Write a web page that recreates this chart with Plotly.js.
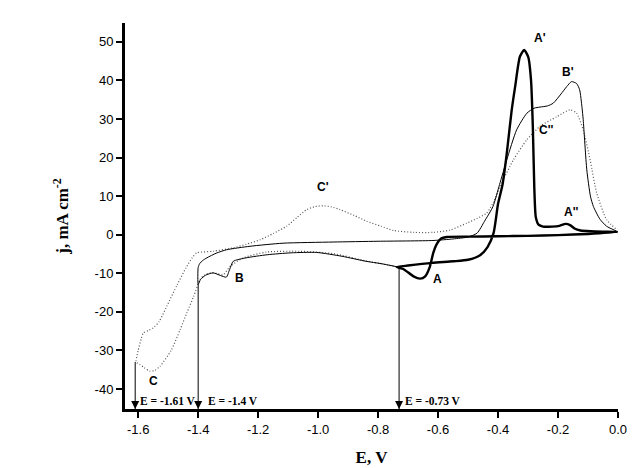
<!DOCTYPE html>
<html><head><meta charset="utf-8">
<script src="https://cdn.plot.ly/plotly-3.0.1.min.js"></script>
<style>html,body{margin:0;padding:0;background:#fff}#chart{width:632px;height:468px}</style>
</head><body><div id="chart"></div>
<script>
// Curve A (thick): scan reversed at -0.73 V
const thickE = [-0.738,-0.70,-0.62,-0.55,-0.50,-0.46,-0.435,-0.415,-0.40,-0.385,-0.371,-0.355,-0.343,-0.327,-0.313,-0.299,-0.29,-0.284,-0.279,-0.274,-0.265,-0.25,-0.22,-0.195,-0.175,-0.16,-0.145,-0.125,-0.09,-0.05,0.0,
  -0.1,-0.2,-0.3,-0.4,-0.5,-0.571,-0.59,-0.605,-0.616,-0.627,-0.643,-0.66,-0.682,-0.716,-0.738];
const thickJ = [-8.4,-8.0,-7.3,-6.9,-6.5,-5.3,-3.2,0.4,8.0,13.0,21.0,32.0,38.4,46.2,47.9,46.0,40.0,28.0,12.0,4.5,2.6,2.1,2.1,2.3,2.8,2.5,1.6,1.1,0.9,0.8,0.7,
  0.2,-0.1,-0.3,-0.4,-0.5,-0.6,-1.0,-2.5,-4.7,-8.2,-10.8,-11.4,-10.8,-8.9,-8.4];
// Curve B (thin): scan reversed at -1.4 V
const thinE = [-0.738,-0.79,-0.84,-0.92,-1.005,-1.09,-1.17,-1.24,-1.283,-1.295,-1.306,-1.325,-1.35,-1.375,-1.392,-1.40,
  -1.40,-1.395,-1.385,-1.371,-1.34,-1.305,-1.227,-1.117,-0.95,-0.80,-0.617,-0.55,-0.50,-0.47,-0.445,-0.417,-0.395,-0.371,-0.338,-0.304,-0.28,-0.26,-0.235,-0.216,-0.19,-0.171,-0.155,-0.138,-0.128,-0.12,-0.116,-0.104,-0.092,-0.082,-0.06,-0.038,-0.004];
const thinJ = [-8.3,-7.5,-6.9,-5.6,-4.6,-4.7,-5.2,-6.0,-6.9,-9.0,-11.0,-10.6,-9.9,-10.5,-11.6,-12.9,
  -8.5,-7.5,-6.7,-6.0,-4.8,-3.9,-3.0,-2.2,-1.9,-1.7,-1.5,-1.1,-0.6,0.4,3.5,7.3,13.0,19.4,27.2,31.5,32.8,33.1,33.4,34.1,36.5,38.4,39.7,39.2,37.6,33.0,29.8,16.8,10.0,7.3,4.0,2.2,0.9];
// Curve C (dotted): scan reversed at -1.61 V
const dotE = [-0.738,-0.84,-0.95,-1.06,-1.172,-1.249,-1.293,-1.317,-1.34,-1.36,-1.38,-1.393,-1.415,-1.438,-1.46,-1.49,-1.527,-1.545,-1.561,-1.58,-1.595,-1.605,
  -1.607,-1.60,-1.59,-1.583,-1.565,-1.55,-1.53,-1.505,-1.47,-1.44,-1.42,-1.405,-1.35,-1.283,-1.24,-1.193,-1.15,-1.105,-1.07,-1.038,-1.01,-0.983,-0.955,-0.927,-0.88,-0.838,-0.79,-0.749,-0.68,-0.617,-0.56,-0.504,-0.47,-0.438,-0.415,-0.393,-0.349,-0.304,-0.26,-0.204,-0.16,-0.138,-0.116,-0.093,-0.071,-0.038,-0.004];
const dotJ = [-8.3,-6.8,-4.9,-4.3,-4.5,-6.0,-8.2,-10.4,-10.0,-9.9,-10.5,-11.5,-16.0,-20.3,-24.6,-30.0,-34.1,-35.2,-35.4,-34.5,-33.6,-33.2,
  -32.8,-30.0,-27.0,-25.5,-24.8,-24.2,-22.5,-18.6,-13.0,-8.5,-6.0,-4.7,-4.3,-3.4,-2.5,-1.3,0.3,2.2,4.5,6.5,7.3,7.5,7.2,6.5,5.0,3.5,2.2,1.1,0.6,0.6,1.2,3.0,4.2,5.6,8.5,12.5,19.4,24.6,28.1,30.6,32.4,31.5,27.2,19.4,10.8,3.9,1.3];

// Peak labels
const peakText = ["A'","B'","C''","A''","C'","B","A","C"];
const peakE = [-0.261,-0.167,-0.239,-0.155,-0.983,-1.261,-0.603,-1.55];
const peakJ = [51.0,42.3,27.2,6.0,12.5,-11.2,-11.5,-38.0];

// Switching potentials
const switchE = [-1.61,-1.40,-0.73];
const switchTailJ = [-33.0,-12.9,-8.4];
const switchText = ["E = -1.61 V","E = -1.4 V","E = -0.73 V"];

const xTicks = [-1.6,-1.4,-1.2,-1.0,-0.8,-0.6,-0.4,-0.2,0.0];
const xTickText = ["-1.6","-1.4","-1.2","-1.0","-0.8","-0.6","-0.4","-0.2","0.0"];
const yTicks = [-40,-30,-20,-10,0,10,20,30,40,50];
const yTickText = ["-40","-30","-20","-10","0","10","20","30","40","50"];

const yMin = -45.2, yMax = 54.9;

// vertical switching lines built from switchE / switchTailJ
const vx = [], vy = [];
switchE.forEach((e, i) => { vx.push(e, e, null); vy.push(switchTailJ[i], yMin, null); });

const traces = [
  {x: dotE, y: dotJ, mode: 'lines', line: {color: '#555', width: 1.2, dash: '1px,2px', shape: 'spline', smoothing: 0.6}},
  {x: thinE, y: thinJ, mode: 'lines', line: {color: '#000', width: 1, shape: 'spline', smoothing: 0.6}},
  {x: thickE, y: thickJ, mode: 'lines', line: {color: '#000', width: 2.4, shape: 'spline', smoothing: 0.6}},
  {x: vx, y: vy, mode: 'lines', line: {color: '#000', width: 1}, connectgaps: false},
  {x: switchE, y: switchE.map(() => yMin), mode: 'markers', cliponaxis: false,
   marker: {symbol: 'arrow-down', size: 8, color: '#000', line: {width: 0}}}
];

const annotations = [];
peakText.forEach((t, i) => annotations.push({
  x: peakE[i], y: peakJ[i], xref: 'x', yref: 'y', text: t, showarrow: false,
  font: {family: 'Arial, Liberation Sans, sans-serif', size: 12, color: '#000', weight: 'bold'}
}));
const labelShift = [3, 8, 4];
switchE.forEach((e, i) => {
  annotations.push({
    x: e, y: yMin, xref: 'x', yref: 'y', text: switchText[i], showarrow: false,
    xanchor: 'left', yanchor: 'bottom', xshift: labelShift[i], yshift: 0,
    font: {family: 'Times New Roman, Liberation Serif, serif', size: 11.5, color: '#000', weight: 'bold'}
  });
});

const layout = {
  width: 632, height: 468,
  margin: {l: 125, r: 14, t: 23, b: 59},
  paper_bgcolor: '#fff', plot_bgcolor: '#fff',
  showlegend: false,
  font: {family: 'Arial, Liberation Sans, sans-serif', size: 13, color: '#000'},
  xaxis: {
    range: [-1.644, 0.0], tickvals: xTicks, ticktext: xTickText,
    showline: true, linewidth: 3, linecolor: '#000', mirror: false,
    ticks: 'outside', ticklen: 6, tickwidth: 2, tickcolor: '#000',
    showgrid: false, zeroline: false, automargin: false,
    tickfont: {size: 13, family: 'Arial, Liberation Sans, sans-serif'},
    title: {text: 'E, V', standoff: 16, font: {family: 'Times New Roman, Liberation Serif, serif', size: 17, weight: 'bold'}}
  },
  yaxis: {
    range: [yMin, yMax], tickvals: yTicks, ticktext: yTickText,
    showline: true, linewidth: 3, linecolor: '#000', mirror: false,
    ticks: 'outside', ticklen: 6, tickwidth: 2, tickcolor: '#000',
    showgrid: false, zeroline: false, automargin: false,
    tickfont: {size: 13, family: 'Arial, Liberation Sans, sans-serif'},
    title: {text: 'j, mA cm<sup>-2</sup>', standoff: 22, font: {family: 'Times New Roman, Liberation Serif, serif', size: 17, weight: 'bold'}}
  },
  annotations: annotations
};

Plotly.newPlot('chart', traces, layout, {displayModeBar: false, staticPlot: true});
</script>
</body></html>
